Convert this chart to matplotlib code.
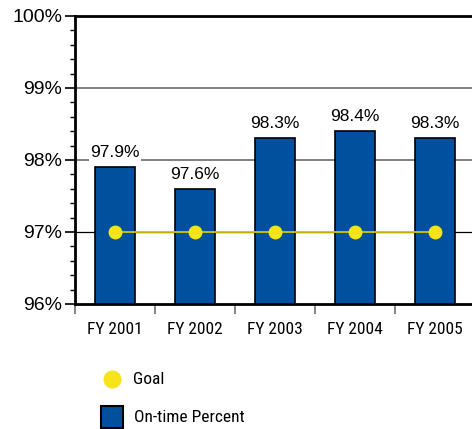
import matplotlib
matplotlib.use("Agg")
import matplotlib.pyplot as plt
from matplotlib.lines import Line2D
from matplotlib.patches import Rectangle
from matplotlib.ticker import MultipleLocator, FuncFormatter

years = ["FY 2001", "FY 2002", "FY 2003", "FY 2004", "FY 2005"]
ontime = [97.9, 97.6, 98.3, 98.4, 98.3]
goal = [97, 97, 97, 97, 97]

BLUE = "#00509E"
YELLOW = "#F7E31A"
GOAL_LINE = "#D9C400"
NARROW = ["Roboto Condensed", "DejaVu Sans"]

fig = plt.figure(figsize=(4.72, 4.29), dpi=100)
ax = fig.add_axes([75 / 472, 125 / 429, 400 / 472, 288 / 429])

x = list(range(len(years)))
ax.bar(x, [v - 96 for v in ontime], bottom=96, width=0.5, color=BLUE,
       edgecolor="black", linewidth=1.2, zorder=3)
ax.plot(x, goal, color=GOAL_LINE, lw=1.3, zorder=4)
ax.plot(x, goal, ls="none", marker="o", ms=10, color=YELLOW,
        markeredgewidth=0, zorder=5)

for xi, v in zip(x, ontime):
    ax.text(xi, v + 0.1, f"{v:.1f}%", ha="center", va="bottom",
            fontsize=12.5, family="Liberation Sans", zorder=6,
            bbox=dict(facecolor="white", edgecolor="none", pad=1))

# horizontal reference lines
for y in (98, 99):
    ax.axhline(y, color="#808080", lw=1.4, zorder=1)
ax.axhline(97, color="black", lw=0.9, zorder=1)

ax.set_xlim(-0.5, 4.5)
ax.set_ylim(96, 100)

ax.yaxis.set_major_locator(MultipleLocator(1))
ax.yaxis.set_minor_locator(MultipleLocator(0.2))
ax.yaxis.set_major_formatter(FuncFormatter(lambda v, _: f"{v:.0f}%"))
ax.tick_params(axis="y", which="major", length=7, width=1.2, labelsize=14,
               color="black", pad=2)
ax.tick_params(axis="y", which="minor", length=3.5, width=1.0, color="black")
for lab in ax.get_yticklabels():
    lab.set_family("Liberation Sans")

ax.set_xticks([i - 0.5 for i in range(len(years) + 1)])
ax.set_xticklabels([])
ax.set_xticks(x, minor=True)
ax.set_xticklabels(years, minor=True, family=NARROW, fontsize=12.5)
ax.tick_params(axis="x", which="major", length=7, width=1.2, color="#707070")
ax.tick_params(axis="x", which="minor", length=0, pad=13)

for side in ("left", "top", "bottom"):
    ax.spines[side].set_linewidth(2)
    ax.spines[side].set_color("black")
ax.spines["right"].set_visible(False)

# legend drawn by hand below the axes
fig.add_artist(Line2D([112 / 472], [1 - 379 / 429], marker="o", ms=13,
                      color=YELLOW, markeredgewidth=0,
                      transform=fig.transFigure))
fig.text(133 / 472, 1 - 380 / 429, "Goal", va="center", ha="left",
         fontsize=12.5, family=NARROW)
fig.add_artist(Rectangle((101 / 472, 1 - 428 / 429), 22 / 472, 22 / 429,
                         facecolor=BLUE, edgecolor="black", lw=1.5,
                         transform=fig.transFigure))
fig.text(134 / 472, 1 - 418 / 429, "On-time Percent", va="center", ha="left",
         fontsize=12.5, family=NARROW)

fig.savefig("out.png", dpi=100)
